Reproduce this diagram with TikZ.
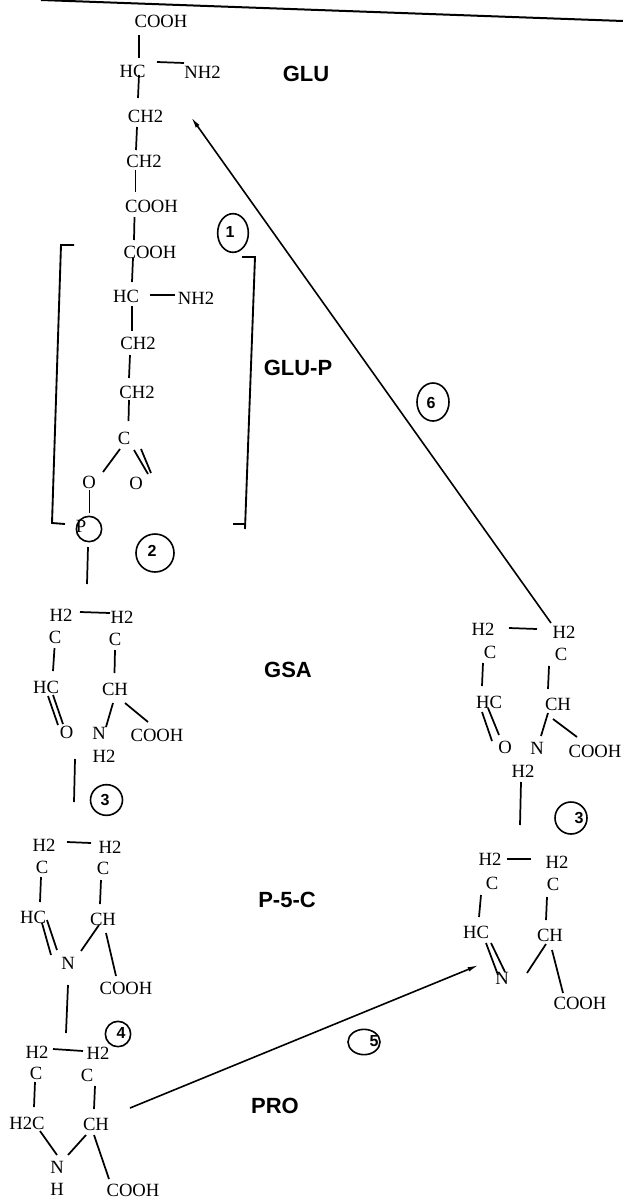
\documentclass[tikz,border=0pt]{standalone}
\usepackage{fontspec}
\setmainfont{Liberation Serif}
\newfontfamily\labelfont{Liberation Sans}
\usetikzlibrary{arrows.meta,shapes.geometric}

\begin{document}
\begin{tikzpicture}[
  x=0.75pt, y=-0.75pt,
  atom/.style={inner sep=0pt, font=\fontsize{14}{16}\selectfont},
  name label/.style={inner sep=0pt, font=\labelfont\bfseries\fontsize{16.5}{18}\selectfont},
  numring/.style={draw, ellipse, line width=1.2pt, inner sep=0pt},
  numdigit/.style={inner sep=0pt, font=\labelfont\bfseries\fontsize{12}{14}\selectfont},
  bond/.style={line width=1.3pt},
  bracket/.style={line width=1.4pt},
  arrow/.style={-{Latex[length=3mm,width=1.2mm]}, line width=1.2pt}
]
\useasboundingbox (0,0) rectangle (623,1199);

% GLU
\node[atom] (gluCooh) at (161,21) {COOH};
\node[atom] (gluHc) at (132.5,71) {HC};
\node[atom] (gluNh) at (202.5,72) {NH2};
\node[atom] (gluCa) at (145.5,116) {CH2};
\node[atom] (gluCb) at (144,161) {CH2};
\node[atom] (gluCo) at (151.5,206) {COOH};
\node[name label] (gluName) at (306,74) {GLU};

% GLU-P
\node[atom] (glupCo) at (150,252) {COOH};
\node[atom] (glupHc) at (126,296) {HC};
\node[atom] (glupNh) at (196,298) {NH2};
\node[atom] (glupCa) at (138,343) {CH2};
\node[atom] (glupCb) at (137,392) {CH2};
\node[atom] (glupC) at (124,438) {C};
\node[atom] (glupOa) at (89,482) {O};
\node[atom] (glupOb) at (136,483) {O};
\node[atom] (glupP) at (81,526) {P};
\node[numring, minimum width=19pt, minimum height=19pt] (glupRing) at (89,529) {};
\node[name label] (glupName) at (298,368) {GLU-P};

% GSA
\node[atom] (gsaHa) at (61,615) {H2};
\node[atom] (gsaHb) at (122,617) {H2};
\node[atom] (gsaCa) at (55,637) {C};
\node[atom] (gsaCb) at (115,639) {C};
\node[atom] (gsaHc) at (46,687) {HC};
\node[atom] (gsaCh) at (115,689) {CH};
\node[atom] (gsaO) at (66.5,732) {O};
\node[atom] (gsaN) at (99,733) {N};
\node[atom] (gsaNh) at (104,756) {H2};
\node[atom] (gsaCo) at (157,735) {COOH};
\node[name label] (gsaName) at (288,670) {GSA};

% P-5-C
\node[atom] (pcHa) at (44,845) {H2};
\node[atom] (pcHb) at (110,847) {H2};
\node[atom] (pcCa) at (42,867) {C};
\node[atom] (pcCb) at (103,868) {C};
\node[atom] (pcHc) at (33,917) {HC};
\node[atom] (pcCh) at (103,919) {CH};
\node[atom] (pcN) at (68,963) {N};
\node[atom] (pcCo) at (126,988) {COOH};
\node[name label] (pcName) at (287,900) {P-5-C};

% PRO
\node[atom] (proHa) at (37,1052) {H2};
\node[atom] (proHb) at (98,1053) {H2};
\node[atom] (proCa) at (36,1073) {C};
\node[atom] (proCb) at (87,1075) {C};
\node[atom] (proHc) at (27,1123) {H2C};
\node[atom] (proCh) at (96,1124) {CH};
\node[atom] (proN) at (57,1167) {N};
\node[atom] (proH) at (57,1189) {H};
\node[atom] (proCo) at (133,1190) {COOH};
\node[name label] (proName) at (275,1106) {PRO};

% right column
\node[atom] (rgHa) at (483,629) {H2};
\node[atom] (rgHb) at (564,632) {H2};
\node[atom] (rgCa) at (490,652) {C};
\node[atom] (rgCb) at (561,654) {C};
\node[atom] (rgHc) at (489,702) {HC};
\node[atom] (rgCh) at (558,704) {CH};
\node[atom] (rgO) at (505,747) {O};
\node[atom] (rgN) at (537,748) {N};
\node[atom] (rgNh) at (523,771) {H2};
\node[atom] (rgCo) at (595,751) {COOH};
\node[atom] (rpHa) at (490,859) {H2};
\node[atom] (rpHb) at (557,862) {H2};
\node[atom] (rpCa) at (492,883) {C};
\node[atom] (rpCb) at (553,884) {C};
\node[atom] (rpHc) at (476,932) {HC};
\node[atom] (rpCh) at (550,935) {CH};
\node[atom] (rpN) at (502,978) {N};
\node[atom] (rpCo) at (580,1003) {COOH};

% numbered rings
\node[numring, minimum width=23pt, minimum height=29pt] (ringOne) at (233,233) {};
\node[numdigit] (numOne) at (230,232) {1};
\node[numring, minimum width=28.5pt, minimum height=28.5pt] (ringTwo) at (155,553) {};
\node[numdigit] (numTwo) at (152,551) {2};
\node[numring, minimum width=24pt, minimum height=23pt] (ringThree) at (106.5,800) {};
\node[numdigit] (numThree) at (105,800) {3};
\node[numring, minimum width=19pt, minimum height=19pt] (ringFour) at (118,1034) {};
\node[numdigit] (numFour) at (121,1033) {4};
\node[numring, minimum width=24pt, minimum height=19pt] (ringFive) at (364,1042) {};
\node[numdigit] (numFive) at (374,1041) {5};
\node[numring, minimum width=24pt, minimum height=28.5pt] (ringSix) at (433,402) {};
\node[numdigit] (numSix) at (431,403) {6};
\node[numring, minimum width=24pt, minimum height=24pt] (ringSeven) at (571,818) {};
\node[numdigit] (numSeven) at (579,818) {3};

% scan edge and brackets
\coordinate (topa) at (41,0);
\coordinate (topb) at (623,21);
\draw[line width=1.5pt] (topa) -- (topb);
\coordinate (bla) at (74,245);
\coordinate (blb) at (61,245);
\coordinate (blc) at (52,523);
\coordinate (bld) at (65,524);
\draw[bracket] (bla) -- (blb) -- (blc) -- (bld);
\coordinate (bra) at (242,257);
\coordinate (brb) at (255,257);
\coordinate (brc) at (245,529);
\coordinate (brd) at (233,524);
\coordinate (bre) at (246,524);
\draw[bracket] (bra) -- (brb) -- (brc);
\draw[bracket] (brd) -- (bre);

% bonds GLU
\draw[bond] ([shift={(-22,14)}]gluCooh.center) -- ([shift={(6.5,-13)}]gluHc.center);
\draw[bond] ([shift={(24.5,-9)}]gluHc.center) -- ([shift={(-18.5,-9)}]gluNh.center);
\draw[bond] ([shift={(6.5,4)}]gluHc.center) -- ([shift={(-7.5,-18)}]gluCa.center);
\draw[bond] ([shift={(-8.5,11)}]gluCa.center) -- ([shift={(-8,-11)}]gluCb.center);
\draw[bond] ([shift={(-8.5,9)}]gluCb.center) -- ([shift={(-16,-14)}]gluCo.center);
\draw[bond] ([shift={(-17,11)}]gluCo.center) -- ([shift={(-16,-12)}]glupCo.center);

% bonds GLU-P
\draw[bond] ([shift={(-17,6)}]glupCo.center) -- ([shift={(6,-14)}]glupHc.center);
\draw[bond] ([shift={(24,-1)}]glupHc.center) -- ([shift={(-21,-3)}]glupNh.center);
\draw[bond] ([shift={(6,10)}]glupHc.center) -- ([shift={(-6,-12)}]glupCa.center);
\draw[bond] ([shift={(-8,12)}]glupCa.center) -- ([shift={(-8,-14)}]glupCb.center);
\draw[bond] ([shift={(-8,8)}]glupCb.center) -- ([shift={(4.5,-17)}]glupC.center);
\draw[bond] ([shift={(-4,11)}]glupC.center) -- ([shift={(14,-10)}]glupOa.center);
\draw[bond] ([shift={(10,12)}]glupC.center) -- ([shift={(12,-9)}]glupOb.center);
\draw[bond] ([shift={(17,11)}]glupC.center) -- ([shift={(15,-10)}]glupOb.center);
\draw[bond] ([shift={(0.5,8)}]glupOa.center) -- ([shift={(0.5,-16)}]glupRing.center);
\draw[bond] ([shift={(-1,18)}]glupRing.center) -- ([shift={(26,-31)}]gsaHa.center);

% bonds GSA
\draw[bond] ([shift={(19,-3)}]gsaHa.center) -- ([shift={(-12,-4)}]gsaHb.center);
\draw[bond] ([shift={(-0.5,11)}]gsaCa.center) -- ([shift={(7,-16)}]gsaHc.center);
\draw[bond] ([shift={(0,11)}]gsaCb.center) -- ([shift={(-0.5,-16)}]gsaCh.center);
\draw[bond] ([shift={(2,9)}]gsaHc.center) -- ([shift={(-8.5,-7)}]gsaO.center);
\draw[bond] ([shift={(7,8)}]gsaHc.center) -- ([shift={(-3.5,-8)}]gsaO.center);
\draw[bond] ([shift={(-2,14)}]gsaCh.center) -- ([shift={(7,-6)}]gsaN.center);
\draw[bond] ([shift={(10,14)}]gsaCh.center) -- ([shift={(-9,-13)}]gsaCo.center);
\draw[bond] ([shift={(-29,3)}]gsaNh.center) -- ([shift={(30,-43)}]pcHa.center);

% bonds P-5-C
\draw[bond] ([shift={(23,-3)}]pcHa.center) -- ([shift={(-19,-4)}]pcHb.center);
\draw[bond] ([shift={(-1,10)}]pcCa.center) -- ([shift={(7,-15)}]pcHc.center);
\draw[bond] ([shift={(-2,12)}]pcCb.center) -- ([shift={(-3,-15)}]pcCh.center);
\draw[bond] ([shift={(9,6)}]pcHc.center) -- ([shift={(-17,-8)}]pcN.center);
\draw[bond] ([shift={(14,3)}]pcHc.center) -- ([shift={(-11,-13)}]pcN.center);
\draw[bond] ([shift={(-4,6)}]pcCh.center) -- ([shift={(13,-12)}]pcN.center);
\draw[bond] ([shift={(3,14)}]pcCh.center) -- ([shift={(-10,-12)}]pcCo.center);
\draw[bond] ([shift={(0,22)}]pcN.center) -- ([shift={(29,-19)}]proHa.center);

% bonds PRO
\draw[bond] ([shift={(16,-3)}]proHa.center) -- ([shift={(-15,-2)}]proHb.center);
\draw[bond] ([shift={(-1,9)}]proCa.center) -- ([shift={(7,-16)}]proHc.center);
\draw[bond] ([shift={(8,11)}]proCb.center) -- ([shift={(-2,-15)}]proCh.center);
\draw[bond] ([shift={(13,8)}]proHc.center) -- ([shift={(0,-12)}]proN.center);
\draw[bond] ([shift={(-10,11)}]proCh.center) -- ([shift={(11,-12)}]proN.center);
\draw[bond] ([shift={(-2,11)}]proCh.center) -- ([shift={(-24,-11)}]proCo.center);

% bonds right column
\draw[bond] ([shift={(26,-1)}]rgHa.center) -- ([shift={(-27,-3)}]rgHb.center);
\draw[bond] ([shift={(-7,11)}]rgCa.center) -- ([shift={(-7,-16)}]rgHc.center);
\draw[bond] ([shift={(-12,12)}]rgCb.center) -- ([shift={(-10,-15)}]rgCh.center);
\draw[bond] ([shift={(-7,10)}]rgHc.center) -- ([shift={(-13,-6)}]rgO.center);
\draw[bond] ([shift={(-1,6)}]rgHc.center) -- ([shift={(-6,-12)}]rgO.center);
\draw[bond] ([shift={(-10,9)}]rgCh.center) -- ([shift={(4,-12)}]rgN.center);
\draw[bond] ([shift={(-5,15)}]rgCh.center) -- ([shift={(-18,-14)}]rgCo.center);
\draw[bond] ([shift={(-2,11)}]rgNh.center) -- ([shift={(30,-34)}]rpHa.center);
\draw[bond] ([shift={(17,0)}]rpHa.center) -- ([shift={(-26,-3)}]rpHb.center);
\draw[bond] ([shift={(-11,12)}]rpCa.center) -- ([shift={(3,-15)}]rpHc.center);
\draw[bond] ([shift={(-6,13)}]rpCb.center) -- ([shift={(-4,-15)}]rpCh.center);
\draw[bond] ([shift={(10,11)}]rpHc.center) -- ([shift={(-4,-3)}]rpN.center);
\draw[bond] ([shift={(15,11)}]rpHc.center) -- ([shift={(3,-6)}]rpN.center);
\draw[bond] ([shift={(-4,9)}]rpCh.center) -- ([shift={(25,-5)}]rpN.center);
\draw[bond] ([shift={(2,15)}]rpCh.center) -- ([shift={(-17,-10)}]rpCo.center);

% long arrows
\draw[arrow] ([shift={(-13,-9)}]rgHb.center) -- ([shift={(45.5,1)}]gluCa.center);
\draw[arrow] ([shift={(34,-16)}]proCh.center) -- ([shift={(-23,-13)}]rpN.center);
\end{tikzpicture}
\end{document}
